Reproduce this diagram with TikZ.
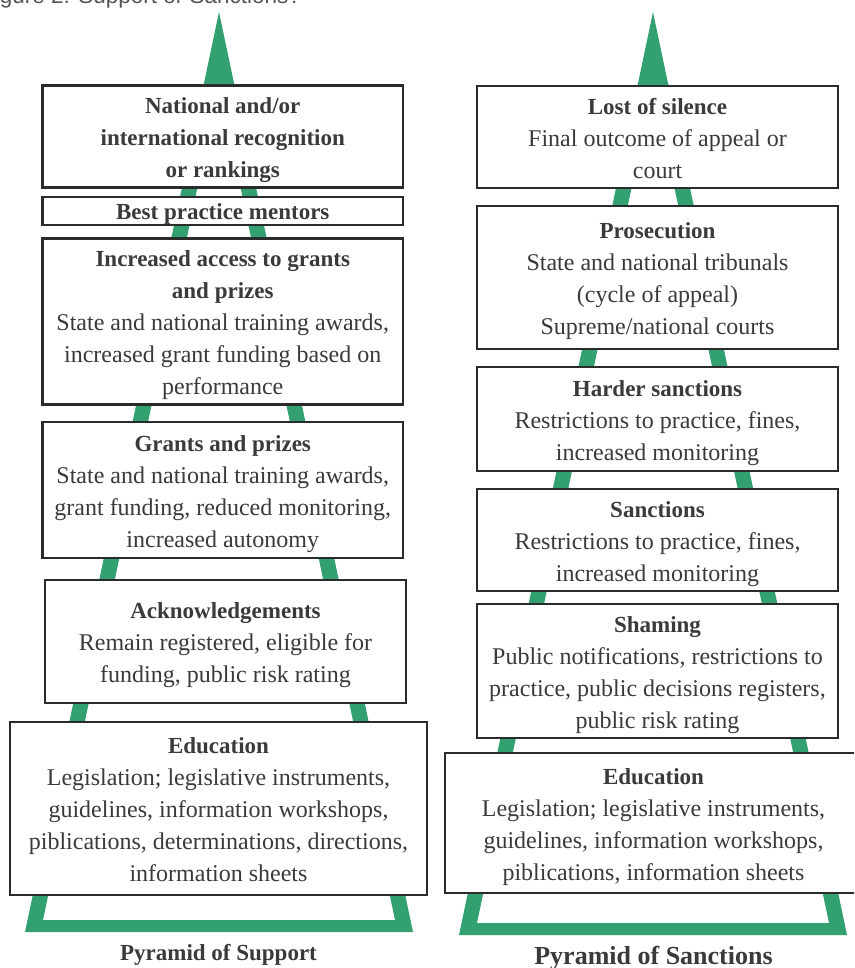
\documentclass[tikz,border=0pt]{standalone}
\usepackage{fontspec}
\setmainfont{Liberation Serif}
\newfontfamily\capfont{Liberation Sans}
\definecolor{pgreen}{HTML}{33A071}
\definecolor{boxline}{HTML}{2B2B2B}
\definecolor{txt}{HTML}{3A3A3A}
\definecolor{captxt}{HTML}{555555}
\newcommand\hd[1]{{\fontsize{23}{32}\selectfont\bfseries #1}}
\newcommand\tstrut{\rule{0pt}{28.4pt}}
\begin{document}
\begin{tikzpicture}[x=1pt,y=-1pt,
  box/.style={draw=boxline, line width=2.6pt, fill=white, inner sep=0pt,
    align=center, text=txt, font=\fontsize{24}{32}\selectfont},
  pyr/.style={fill=pgreen, even odd rule},
  ptitle/.style={anchor=base, inner sep=0pt, text=txt}]
\clip (0,0) rectangle (854,968);
\fill[white] (0,0) rectangle (854,968);
% caption (cut at top)
\node[anchor=base west, inner sep=0pt, text=captxt,
  font=\capfont\fontsize{22.5}{27}\selectfont] (cap) at (-19,4) {Figure 2: Support or Sanctions?};
% pyramids
\fill[pyr] (219,12) -- (25,932) -- (413,932) -- cycle
           (219,85.5) -- (43,920) -- (395,920) -- cycle;
\fill[pyr] (653,12) -- (459,935) -- (847,935) -- cycle
           (653,85.7) -- (477,923) -- (829,923) -- cycle;
% left boxes
\node[box, minimum width=360.5pt, minimum height=101pt] (l1) at (222.75,136.5)
  {\tstrut\hd{National and/or}\\ \hd{international recognition}\\ \hd{or rankings}\strut};
\node[box, minimum width=360.5pt, minimum height=28pt] (l2) at (222.75,211)
  {\raisebox{-2.5pt}[\height][\depth]{\hd{Best practice mentors}}};
\node[box, minimum width=360.5pt, minimum height=165pt] (l3) at (222.75,321.5)
  {\tstrut\hd{Increased access to grants}\\ \hd{and prizes}\\ State and national training awards,\\ increased grant funding based on\\ performance\strut};
\node[box, minimum width=360.5pt, minimum height=136pt] (l4) at (222.75,490)
  {\tstrut\hd{Grants and prizes}\\ State and national training awards,\\ grant funding, reduced monitoring,\\ increased autonomy\strut};
\node[box, minimum width=361pt, minimum height=123pt] (l5) at (225.5,641.5)
  {\tstrut\hd{Acknowledgements}\\ Remain registered, eligible for\\ funding, public risk rating\strut};
\node[box, minimum width=417pt, minimum height=173pt] (l6) at (218.5,808.5)
  {\tstrut\hd{Education}\\ Legislation; legislative instruments,\\ guidelines, information workshops,\\ piblications, determinations, directions,\\ information sheets\strut};
% right boxes
\node[box, minimum width=361pt, minimum height=102pt] (r1) at (657.5,137)
  {\tstrut\hd{Lost of silence}\\ Final outcome of appeal or\\ court\strut};
\node[box, minimum width=361pt, minimum height=143pt] (r2) at (657.5,277.5)
  {\tstrut\hd{Prosecution}\\ State and national tribunals\\ (cycle of appeal)\\ Supreme/national courts\strut};
\node[box, minimum width=361pt, minimum height=104pt] (r3) at (657.5,419)
  {\tstrut\hd{Harder sanctions}\\ Restrictions to practice, fines,\\ increased monitoring\strut};
\node[box, minimum width=361pt, minimum height=94pt] (r4) at (657.5,540)
  {\tstrut\hd{Sanctions}\\ Restrictions to practice, fines,\\ increased monitoring\strut};
\node[box, minimum width=361pt, minimum height=132pt] (r5) at (657.5,671)
  {\tstrut\hd{Shaming}\\ Public notifications, restrictions to\\ practice, public decisions registers,\\ public risk rating\strut};
\node[box, minimum width=417pt, minimum height=140pt] (r6) at (653.5,823)
  {\tstrut\hd{Education}\\ Legislation; legislative instruments,\\ guidelines, information workshops,\\ piblications, information sheets\strut};
% titles
\node[ptitle, font=\bfseries\fontsize{23}{28}\selectfont] (t1) at (218.5,960) {Pyramid of Support};
\node[ptitle, font=\bfseries\fontsize{26}{30}\selectfont] (t2) at (653.5,964) {Pyramid of Sanctions};
\end{tikzpicture}
\end{document}
